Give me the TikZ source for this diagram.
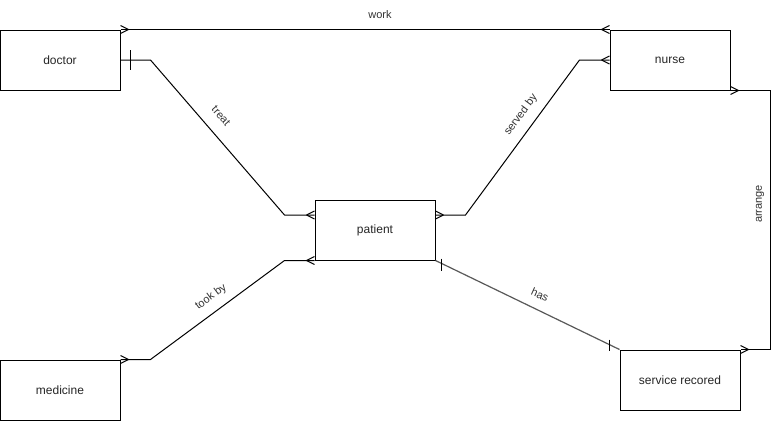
\documentclass[tikz,border=0pt]{standalone}
\usepackage{fontspec}
\setmainfont{Liberation Sans}
\usetikzlibrary{calc}
\begin{document}
\begin{tikzpicture}[x=1pt,y=-1pt,
  entity/.style={draw=black,line width=1pt,minimum width=120pt,minimum height=60pt,inner sep=0pt,font=\fontsize{12}{14}\selectfont,text=black!85},
  conn/.style={draw=black,line width=1pt},
  grayconn/.style={draw=black!65,line width=1.2pt},
  lbl/.style={font=\fontsize{11}{13}\selectfont,text=black!80,inner sep=1pt}]
\useasboundingbox (0,0) rectangle (780,421);
\fill[white] (0,0) rectangle (780,421);
% entities
\node[entity] (doctor) at (60,60) {doctor};
\node[entity] (nurse) at (670,60) {nurse};
\node[entity] (patient) at (375,230) {patient};
\node[entity] (medicine) at (60,390) {medicine};
\node[entity] (service) at (680,380) {service recored};
% anchor coordinates
\coordinate (dR) at ($(doctor.east)$);
\coordinate (nL) at ($(nurse.west)$);
\coordinate (pL) at ($(patient.west)+(0,-15)$);
\coordinate (pR) at ($(patient.east)+(0,-15)$);
\coordinate (mR) at (medicine.north east);
\coordinate (sR) at (service.north east);
% work
\draw[conn] (doctor.north east) -- (nurse.north west);
\draw[conn] ($(doctor.north east)+(8,0)$) -- ($(doctor.north east)+(0,-4)$)
            ($(doctor.north east)+(8,0)$) -- ($(doctor.north east)+(0,4)$);
\draw[conn] ($(nurse.north west)+(-8,0)$) -- ($(nurse.north west)+(0,-4)$)
            ($(nurse.north west)+(-8,0)$) -- ($(nurse.north west)+(0,4)$);
\node[lbl] (lwork) at (380,15) {work};
% treat
\draw[conn] (dR) -- ++(30,0) -- ($(pL)+(-30,0)$) -- (pL);
\draw[conn] ($(dR)+(10,-10)$) -- ($(dR)+(10,10)$);
\draw[conn] ($(pL)+(-8,0)$) -- ($(pL)+(0,-4)$)
            ($(pL)+(-8,0)$) -- ($(pL)+(0,4)$);
\node[lbl,rotate=-49] (ltreat) at (221,116) {treat};
% served by
\draw[conn] (pR) -- ++(30,0) -- ($(nL)+(-30,0)$) -- (nL);
\draw[conn] ($(pR)+(8,0)$) -- ($(pR)+(0,-4)$)
            ($(pR)+(8,0)$) -- ($(pR)+(0,4)$);
\draw[conn] ($(nL)+(-8,0)$) -- ($(nL)+(0,-4)$)
            ($(nL)+(-8,0)$) -- ($(nL)+(0,4)$);
\node[lbl,rotate=53.4] (lserved) at (521,115) {served by};
% took by
\draw[conn] (mR) -- ++(30,0) -- ($(patient.south west)+(-30,0)$) -- (patient.south west);
\draw[conn] ($(mR)+(8,0)$) -- ($(mR)+(0,-4)$)
            ($(mR)+(8,0)$) -- ($(mR)+(0,4)$);
\draw[conn] ($(patient.south west)+(-8,0)$) -- ($(patient.south west)+(0,-4)$)
            ($(patient.south west)+(-8,0)$) -- ($(patient.south west)+(0,4)$);
\node[lbl,rotate=36.5] (ltook) at (211,297) {took by};
% has
\draw[grayconn] (patient.south east) -- (service.north west);
\draw[conn] ($(patient.south east)+(6,-2)$) -- ($(patient.south east)+(6,10)$);
\draw[conn] ($(service.north west)+(-10,-10)$) -- ($(service.north west)+(-10,1)$);
\node[lbl,rotate=-24] (lhas) at (540,295) {has};
% arrange
\draw[conn] (nurse.south east) -- ++(40,0) |- (sR);
\draw[conn] ($(nurse.south east)+(8,0)$) -- ($(nurse.south east)+(0,-4)$)
            ($(nurse.south east)+(8,0)$) -- ($(nurse.south east)+(0,4)$);
\draw[conn] ($(sR)+(8,0)$) -- ($(sR)+(0,-4)$)
            ($(sR)+(8,0)$) -- ($(sR)+(0,4)$);
\node[lbl,rotate=90] (larrange) at (760,204) {arrange};
\end{tikzpicture}
\end{document}
